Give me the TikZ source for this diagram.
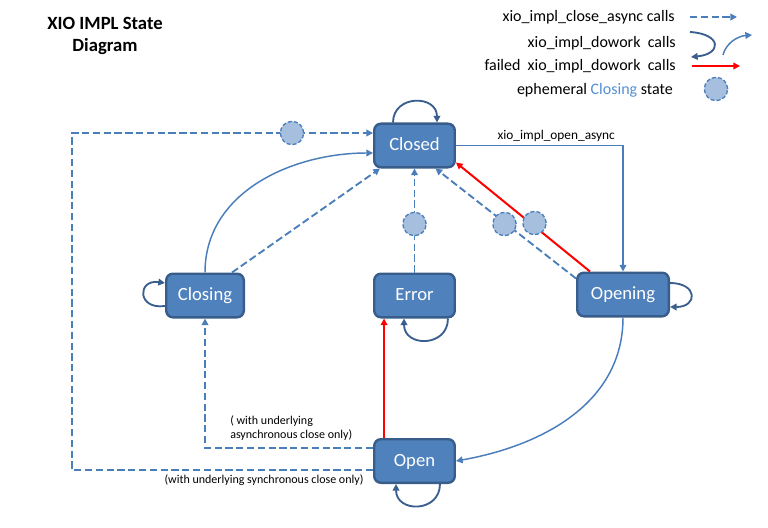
\documentclass[tikz,border=0pt]{standalone}
\usepackage{fontspec}
\setmainfont{Carlito}
\usepackage{tikz}
\usetikzlibrary{arrows.meta,positioning,calc}
\usepackage{xcolor}
\definecolor{statefill}{HTML}{4F81BD}
\definecolor{stateline}{HTML}{385D8A}
\definecolor{flow}{HTML}{4A7EBB}
\definecolor{loopc}{HTML}{3A5F8F}
\definecolor{ghostfill}{HTML}{A7BFDE}
\definecolor{fail}{HTML}{FF0000}
\definecolor{keyblue}{HTML}{558ED5}
\tikzset{
  >={Triangle[length=5pt,width=5pt]},
  every node/.style={text=black},
  state/.style={draw=stateline,line width=1.8pt,fill=statefill,rounded corners=5pt,minimum width=60.4pt,minimum height=32.7pt,inner sep=2pt,text height=10.5pt,text depth=2.5pt,text=white,font=\fontsize{14}{16}\selectfont},
  ghost/.style={circle,draw=flow,dashed,dash pattern=on 3pt off 1.6pt,line width=1pt,fill=ghostfill,minimum size=17.5pt,inner sep=0pt},
  asyncarr/.style={->,line width=1.4pt,draw=flow,dash pattern=on 5.5pt off 2.6pt},
  openarr/.style={->,line width=1.1pt,draw=flow},
  loopy/.style={->,line width=1.4pt,draw=loopc},
  failarr/.style={->,line width=1.5pt,draw=fail},
  note/.style={font=\fontsize{9}{11}\selectfont,align=left,inner sep=0pt},
  keytext/.style={font=\fontsize{12}{14}\selectfont,anchor=east,inner sep=0pt},
  title/.style={font=\fontsize{14}{16.5}\selectfont\bfseries,align=center},
}

\begin{document}
\begin{tikzpicture}[x=0.75pt,y=0.75pt]
\useasboundingbox (0,0) rectangle (768,-528);

% ---------- title ----------
\node[title] (ttl) at (105,-36) {XIO IMPL State\\Diagram};

% ---------- states ----------
\node[state] (closed) at (414.5,-145.5) {Closed};
\node[state,minimum width=58.2pt] (closing) at (205,-295.5) {Closing};
\node[state] (error) at (414.5,-295.5) {Error};
\node[state,minimum width=68.7pt] (opening) at (623,-294.5) {Opening};
\node[state] (open) at (414.5,-461) {Open};

% ---------- close async ----------
\coordinate (lft) at (72,-133);
\draw[asyncarr] ($(open.west)+(0,-9)$) -| (lft) -- (closed.west|-lft);
\draw[asyncarr] ($(open.west)+(0,13)$) -| (closing.south);
\draw[asyncarr] ($(closing.north east)+(-13,0)$) -- ($(closed.south west)+(7,0)$);
\draw[asyncarr] (error.north) -- (closed.south);
\draw[asyncarr] ($(opening.north west)+(0,-7)$) -- ($(closed.south)+(21,0)$);
\node[note,anchor=north west] (asynclbl) at (230,-415) {( with underlying\\asynchronous close only)};
\node[note,anchor=north] (synclbl) at (264,-474) {(with underlying synchronous close only)};

% ---------- open / dowork ----------
\draw[openarr] (closed.east) -| node[pos=0.3,above,font=\fontsize{10}{12}\selectfont,inner sep=2pt] {xio\_impl\_open\_async} (opening.north);
\draw[openarr] (closing.north) to[out=90,in=180] ($(closed.west)+(0,-7.5)$);
\draw[openarr] (opening.south) to[out=-90,in=10] (open.east);
\draw[failarr] ($(opening.north)+(-33,0)$) -- ($(closed.south east)+(0,6)$);
\draw[failarr] ($(open.north west)+(11,0)$) -- ($(error.south west)+(11,0)$);

% ---------- self loops ----------
\draw[loopy] ($(closed.north west)+(20,0)$) .. controls +(0,28) and +(0,28) .. ($(closed.north east)+(-19,0)$);
\draw[loopy] ($(error.south east)+(-8,0)$) .. controls +(0,-29) and +(0,-29) .. ($(error.south west)+(31,0)$);
\draw[loopy] ($(closing.west)+(0,-10.5)$) .. controls +(-28,-4) and +(-28,4) .. ($(closing.west)+(0,12.5)$);
\draw[loopy] ($(opening.east)+(0,11.5)$) .. controls +(28,0) and +(28,0) .. ($(opening.east)+(0,-12.5)$);
\draw[loopy] ($(open.south east)+(-16,0)$) .. controls +(0,-29) and +(0,-29) .. ($(open.south west)+(23,0)$);

% ---------- ephemeral closing ----------
\node[ghost] (g1) at (292,-133) {};
\node[ghost] (g2) at (414.5,-224) {};
\node[ghost] (g3) at (504.5,-224) {};
\node[ghost] (g4) at (534.5,-223) {};

% ---------- legend ----------
\node[keytext] (k1) at (675,-17) {xio\_impl\_close\_async calls};
\node[keytext] (k2) at (676,-43) {xio\_impl\_dowork\ \ calls};
\node[keytext] (k3) at (676,-66) {failed\ \ xio\_impl\_dowork\ \ calls};
\node[keytext] (k4) at (673,-90) {ephemeral\ \textcolor{keyblue}{Closing} state};
\coordinate (k1a) at (690,-17);
\coordinate (k1b) at (737,-17);
\draw[asyncarr] (k1a) -- (k1b);
\coordinate (k2a) at (690,-32);
\coordinate (k2b) at (691,-57);
\draw[loopy] (k2a) .. controls (722,-34) and (722,-54) .. (k2b);
\coordinate (k2c) at (723,-55);
\coordinate (k2d) at (752,-35);
\draw[openarr] (k2c) .. controls (726,-43) and (738,-36) .. (k2d);
\coordinate (k3a) at (692,-66);
\coordinate (k3b) at (740,-66);
\draw[failarr] (k3a) -- (k3b);
\node[ghost] (k4g) at (716,-89) {};

\end{tikzpicture}
\end{document}
